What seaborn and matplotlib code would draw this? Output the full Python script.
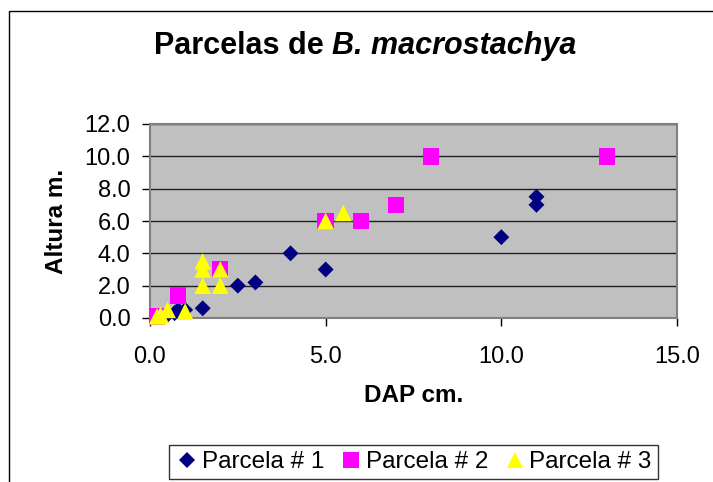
import pandas as pd
import numpy as np
import matplotlib.pyplot as plt
import matplotlib.patches as patches
import seaborn as sns

# Data (DAP in cm, Altura in m)
p1_dap = [0.5, 0.7, 0.8, 1.0, 1.5, 2.5, 3.0, 4.0, 5.0, 10.0, 11.0, 11.0]
p1_alt = [0.2, 0.3, 0.5, 0.5, 0.6, 2.0, 2.2, 4.0, 3.0, 5.0, 7.0, 7.5]
p2_dap = [0.2, 0.8, 2.0, 5.0, 6.0, 7.0, 8.0, 13.0]
p2_alt = [0.1, 1.4, 3.0, 6.0, 6.0, 7.0, 10.0, 10.0]
p3_dap = [0.2, 0.3, 0.5, 1.0, 1.5, 1.5, 1.5, 2.0, 2.0, 5.0, 5.5]
p3_alt = [0.1, 0.2, 0.5, 0.4, 2.0, 3.0, 3.5, 2.0, 3.0, 6.0, 6.5]

series = ["Parcela # 1", "Parcela # 2", "Parcela # 3"]
x_ticks = [0.0, 5.0, 10.0, 15.0]
y_ticks = [0.0, 2.0, 4.0, 6.0, 8.0, 10.0, 12.0]

df = pd.concat([
    pd.DataFrame({"DAP": p1_dap, "Altura": p1_alt, "Parcela": series[0]}),
    pd.DataFrame({"DAP": p2_dap, "Altura": p2_alt, "Parcela": series[1]}),
    pd.DataFrame({"DAP": p3_dap, "Altura": p3_alt, "Parcela": series[2]}),
])

plt.rcParams["font.family"] = ["Liberation Sans", "DejaVu Sans"]

fig = plt.figure(figsize=(7.13, 4.82), dpi=100)
ax = fig.add_axes([150 / 713, 1 - 318 / 482, 527 / 713, 194 / 482])
ax.set_facecolor("#C0C0C0")

palette = {series[0]: "#000080", series[1]: "#FF00FF", series[2]: "#FFFF00"}
markers = {series[0]: "D", series[1]: "s", series[2]: "^"}
sizes = {series[0]: 66, series[1]: 140, series[2]: 144}

sns.scatterplot(data=df, x="DAP", y="Altura", hue="Parcela", style="Parcela",
                size="Parcela", palette=palette, markers=markers, sizes=sizes,
                linewidth=0, ax=ax, zorder=3, clip_on=False)

ax.set_xlim(0, 15)
ax.set_ylim(0, 12)
ax.set_xticks(x_ticks)
ax.set_yticks(y_ticks)
ax.set_xticklabels([f"{v:.1f}" for v in x_ticks])
ax.set_yticklabels([f"{v:.1f}" for v in y_ticks])
ax.tick_params(axis="x", length=6, width=1, pad=14, labelsize=17, direction="out")
ax.tick_params(axis="y", length=6, width=1, pad=8, labelsize=17, direction="out")

ax.grid(axis="y", color="#202020", linewidth=1)
ax.set_axisbelow(True)
for s in ax.spines.values():
    s.set_color("#808080")
    s.set_linewidth(1.5)

ax.set_xlabel("DAP cm.", fontsize=17.5, fontweight="bold", va="center")
ax.set_ylabel("Altura m.", fontsize=17.5, fontweight="bold", va="center")
ax.xaxis.set_label_coords(0.5, -(396 - 318) / 194)
ax.yaxis.set_label_coords(-(150 - 56) / 527, 0.5)

# Title: bold, with the species name in bold italic
title_y = 1 - 46 / 482
t1 = fig.text(0, title_y, "Parcelas de ", fontsize=22, fontweight="bold", va="center")
t2 = fig.text(0, title_y, "B. macrostachya", fontsize=22, fontweight="bold",
              style="italic", va="center")
r = fig.canvas.get_renderer()
w1 = t1.get_window_extent(r).width
w2 = t2.get_window_extent(r).width
x0 = 365 - (w1 + w2) / 2
t1.set_x(x0 / 713)
t2.set_x((x0 + w1) / 713)

sns.move_legend(ax, "upper center", bbox_to_anchor=(0.5, -(445 - 318) / 194),
                ncol=3, title=None, frameon=True, fontsize=17.5,
                handletextpad=0.1, columnspacing=0.6, borderpad=0.25,
                borderaxespad=0, handlelength=1.0, fancybox=False,
                edgecolor="black")
leg = ax.get_legend()
leg.get_frame().set_linewidth(1)

# outer chart frame (cut off at the right and bottom)
fig.patches.append(patches.Rectangle((9 / 713, -0.1), 1.2, 1.1 - 11 / 482,
                                     transform=fig.transFigure, fill=False,
                                     edgecolor="black", linewidth=1))

fig.savefig("out.png", dpi=100)
